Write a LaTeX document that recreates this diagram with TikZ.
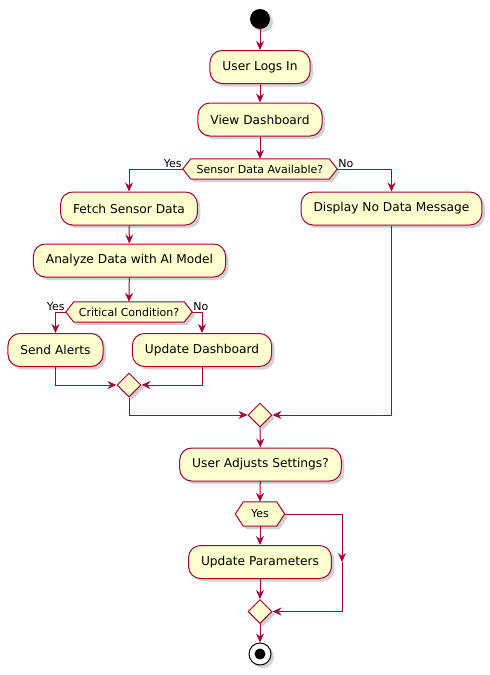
\documentclass[tikz,border=0pt]{standalone}
\usepackage{fontspec}
\setmainfont{DejaVu Sans}
\usetikzlibrary{arrows.meta,shapes.geometric,shadows,calc}
\definecolor{pfill}{HTML}{FEFECE}
\definecolor{pline}{HTML}{A80036}
\pgfdeclarelayer{bg}
\pgfsetlayers{bg,main}
\newcommand\hexat[2]{\begin{pgfonlayer}{bg}\path[hexshape] (#1.west) -- ([xshift=#2]#1.north west) -- ([xshift=-#2]#1.north east) -- (#1.east) -- ([xshift=-#2]#1.south east) -- ([xshift=#2]#1.south west) -- cycle;\end{pgfonlayer}}
\begin{document}
\begin{tikzpicture}[x=1pt,y=-1pt,
 shd/.style={drop shadow={shadow xshift=3pt,shadow yshift=-3pt,opacity=0.25,fill=black!70}},
 act/.style={draw=pline,fill=pfill,line width=1pt,rounded corners=12pt,minimum height=33pt,inner xsep=12.5pt,font=\fontsize{12.2}{14}\selectfont,shd},
 hexlabel/.style={inner sep=0pt,font=\fontsize{11}{13}\selectfont},
 hexshape/.style={draw=pline,fill=pfill,line width=1pt,shd},
 merge/.style={diamond,draw=pline,fill=pfill,line width=1pt,minimum width=24pt,minimum height=24pt,inner sep=0pt,shd},
 arr/.style={draw=pline,line width=1pt,-{Stealth[length=9pt,width=8pt,inset=3pt]}},
 lin/.style={draw=pline,line width=1pt},
 lbl/.style={font=\fontsize{11}{13}\selectfont,inner sep=1pt}
]
\useasboundingbox (0,0) rectangle (490,675);
% nodes
\node[circle,fill=black,minimum size=20pt,inner sep=0pt,shd] (start) at (260,19) {};
\node[act] (u1) at (260,67) {User Logs In};
\node[act] (vd) at (260,119.5) {View Dashboard};
\node[hexlabel,minimum width=154pt,minimum height=20pt] (d1) at (260,169) {Sensor Data Available?};
\hexat{d1}{8pt}
\node[act] (fetch) at (129,208.5) {Fetch Sensor Data};
\node[act] (nodata) at (391.5,208.5) {Display No Data Message};
\node[act] (analyze) at (129.5,260.5) {Analyze Data with AI Model};
\node[hexlabel,minimum width=126pt,minimum height=20pt] (d2) at (129,312) {Critical Condition?};
\hexat{d2}{8pt}
\node[act] (send) at (55.5,350) {Send Alerts};
\node[act] (upd) at (202,350) {Update Dashboard};
\node[merge] (m1) at (129,385) {};
\node[merge] (m2) at (260,415) {};
\node[act] (adj) at (260.5,464.5) {User Adjusts Settings?};
\node[hexlabel,minimum width=49pt,minimum height=24pt] (d3) at (260,514) {Yes};
\hexat{d3}{8pt}
\node[act] (updp) at (260,562) {Update Parameters};
\node[merge] (m3) at (260,611.5) {};
\node[circle,draw=black,fill=white,line width=1pt,minimum size=22pt,inner sep=0pt,shd] (stop) at (260,654) {};
\node[circle,fill=black,minimum size=11pt,inner sep=0pt] (stopdot) at (stop.center) {};
\coordinate (rtop) at (342,514);
\coordinate (rmid) at (342,562);
\coordinate (rbot) at (342,611.5);
% labels
\node[lbl,anchor=south east] (l1) at (d1.west) {Yes};
\node[lbl,anchor=south west] (l2) at (d1.east) {No};
\node[lbl,anchor=south east] (l3) at (d2.west) {Yes};
\node[lbl,anchor=south west] (l4) at (d2.east) {No};
% connectors
\draw[arr] (start) -- (u1);
\draw[arr] (u1) -- (vd);
\draw[arr] (vd) -- (d1.north);
\draw[arr] (d1.west) -| (fetch);
\draw[arr] (d1.east) -| (nodata);
\draw[arr] (fetch) -- (analyze);
\draw[arr] (analyze) -- (d2.north);
\draw[arr] (d2.west) -| (send);
\draw[arr] (d2.east) -| (upd);
\draw[arr] (send) |- (m1);
\draw[arr] (upd) |- (m1);
\draw[arr] (m1) |- (m2);
\draw[arr] (nodata) |- (m2);
\draw[arr] (m2) -- (adj);
\draw[arr] (adj) -- (d3.north);
\draw[arr] (d3.south) -- (updp);
\draw[lin] (d3.east) -- (rtop);
\draw[arr] (rtop) -- (rmid);
\draw[arr] (rmid) -- (rbot) -- (m3.east);
\draw[arr] (updp) -- (m3);
\draw[arr] (m3) -- (stop);
\end{tikzpicture}
\end{document}
